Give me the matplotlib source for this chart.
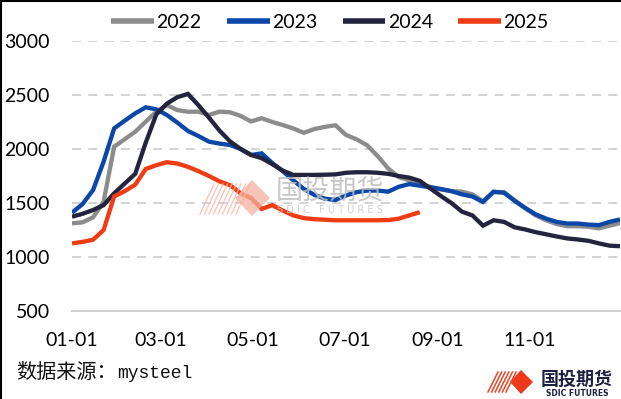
import matplotlib
matplotlib.use("Agg")
import matplotlib.pyplot as plt
import matplotlib.dates as mdates
from matplotlib.patches import Polygon
from matplotlib.lines import Line2D
import pandas as pd

# ---------------- data ----------------
weeks = pd.date_range("2023-01-01", periods=53, freq="7D")
tick_dates = ["2023-01-01", "2023-03-01", "2023-05-01", "2023-07-01", "2023-09-01", "2023-11-01"]
y_ticks = [500, 1000, 1500, 2000, 2500, 3000]

s2022 = [1312, 1321, 1367, 1512, 2022, 2090, 2160, 2253, 2346, 2407, 2360, 2345, 2345,
         2315, 2346, 2340, 2306, 2255, 2285, 2250, 2222, 2190, 2150, 2185, 2205, 2220,
         2130, 2090, 2035, 1935, 1820, 1740, 1710, 1670, 1650, 1625, 1610, 1605, 1580,
         1515, 1600, 1600, 1525, 1450, 1385, 1340, 1305, 1285, 1285, 1280, 1265, 1290, 1315]
s2023 = [1410, 1490, 1620, 1883, 2191, 2262, 2330, 2386, 2367, 2315, 2244, 2167, 2120,
         2068, 2050, 2037, 2000, 1944, 1960, 1870, 1795, 1710, 1630, 1575, 1540, 1528,
         1570, 1600, 1615, 1615, 1605, 1650, 1675, 1660, 1645, 1630, 1610, 1580, 1560,
         1510, 1605, 1595, 1520, 1455, 1395, 1355, 1325, 1310, 1310, 1300, 1295, 1325, 1348]
s2024 = [1373, 1400, 1435, 1480, 1590, 1680, 1770, 2060, 2320, 2420, 2480, 2510, 2405,
         2290, 2170, 2070, 2000, 1945, 1915, 1860, 1800, 1760, 1760, 1760, 1762, 1765,
         1780, 1785, 1785, 1780, 1770, 1750, 1735, 1705, 1635, 1565, 1500, 1420, 1385,
         1290, 1340, 1325, 1275, 1255, 1230, 1210, 1190, 1172, 1162, 1150, 1126, 1105, 1100]
s2025 = [1126, 1140, 1160, 1250, 1560, 1610, 1670, 1815, 1850, 1878, 1865, 1835, 1795,
         1750, 1700, 1665, 1590, 1545, 1445, 1480, 1430, 1385, 1360, 1350, 1345, 1340,
         1340, 1340, 1340, 1340, 1342, 1355, 1385, 1415]

labels = ["2022", "2023", "2024", "2025"]
series = [s2022, s2023, s2024, s2025]
colors = ["#8C8C8C", "#0A47A8", "#24243F", "#F03C14"]

# ---------------- figure ----------------
W, H = 621, 399
fig = plt.figure(figsize=(W / 100, H / 100), dpi=100)
ax = fig.add_axes([72 / W, (H - 311) / H, (620 - 72) / W, (311 - 41) / H])

lines = []
for lab, vals, col in zip(labels, series, colors):
    ln, = ax.plot(weeks[:len(vals)], vals, color=col, lw=3.1, label=lab,
                  solid_joinstyle="miter", solid_capstyle="butt", zorder=3)
    lines.append(ln)

ax.set_xlim(pd.Timestamp("2023-01-01"), pd.Timestamp("2023-12-31"))
ax.set_ylim(500, 3000)
ax.set_yticks(y_ticks)
ax.set_xticks([pd.Timestamp(d) for d in tick_dates])
ax.xaxis.set_major_formatter(mdates.DateFormatter("%m-%d"))

for v in y_ticks[1:]:
    ax.axhline(v, color="#D0D0D0", lw=1.3, ls=(0, (5, 4)), zorder=1)

for sp in ["top", "right", "left"]:
    ax.spines[sp].set_visible(False)
ax.spines["bottom"].set_color("#D0D0D0")
ax.spines["bottom"].set_linewidth(1.5)

ax.tick_params(axis="both", length=0, labelsize=14)
ax.tick_params(axis="y", pad=16)
ax.tick_params(axis="x", pad=15)
for t in ax.get_xticklabels() + ax.get_yticklabels():
    t.set_fontfamily("Lato")

leg = fig.legend(handles=lines, loc="center", bbox_to_anchor=(330 / W, 1 - 22 / H),
                 ncol=4, frameon=False, prop={"family": "Lato", "size": 14},
                 handlelength=2.2, handletextpad=0.12, columnspacing=1.3)
for lh in leg.get_lines():
    lh.set_linewidth(4)

# watermark
fig.patches.append(Polygon([(235 / W, 1 - 198 / H), (252 / W, 1 - 180 / H),
                            (270 / W, 1 - 198 / H), (252 / W, 1 - 216 / H)],
                           closed=True, transform=fig.transFigure,
                           facecolor="#F4B2A0", edgecolor="none", alpha=0.75, zorder=2))
for i in range(9):
    x0 = 200 + i * 4.5
    fig.add_artist(Line2D([x0 / W, (x0 + 14) / W], [1 - 214 / H, 1 - 184 / H],
                          color="#F6B8A8", lw=1.0, alpha=0.8, zorder=2))
fig.text(330 / W, 1 - 191 / H, "国投期货", family=["Noto Sans CJK SC"], fontsize=19.5,
         color="#BDBDBD", ha="center", va="center", alpha=0.85, zorder=2)
fig.text(330 / W, 1 - 210 / H, "S D I C   F U T U R E S", family="DejaVu Sans",
         fontsize=7, color="#C8C8C8", ha="center", va="center", alpha=0.85, zorder=2)

# source
fig.text(16 / W, 1 - 373 / H, "数据来源：", family=["Noto Sans CJK SC"], fontsize=14.5,
         color="#111111", ha="left", va="center")
fig.text(117 / W, 1 - 373 / H, "mysteel", family="Liberation Mono", fontsize=13,
         color="#111111", ha="left", va="center")

# logo bottom-right
for i in range(6):
    x0 = 488 + i * 3.6
    fig.add_artist(Line2D([x0 / W, (x0 + 10) / W], [1 - 392 / H, 1 - 372 / H],
                          color="#E8462A", lw=1.1))
fig.patches.append(Polygon([(510 / W, 1 - 382 / H), (521 / W, 1 - 370 / H),
                            (533 / W, 1 - 382 / H), (521 / W, 1 - 394 / H)],
                           closed=True, transform=fig.transFigure,
                           facecolor="#EE3A1A", edgecolor="none"))
fig.text(577 / W, 1 - 379 / H, "国投期货", family=["Noto Sans CJK SC"], fontsize=13,
         fontweight="bold", color="#1E2142", ha="center", va="center")
fig.text(577 / W, 1 - 393 / H, "SDIC FUTURES", family="DejaVu Sans", fontsize=5.5,
         fontweight="bold", color="#1E2142", ha="center", va="center")

# image border
fig.add_artist(Line2D([0.5 / W, 0.5 / W], [0, 1], color="black", lw=1.5))
fig.add_artist(Line2D([0, 1], [1 - 0.5 / H, 1 - 0.5 / H], color="black", lw=1.5))

fig.savefig("out.png", dpi=100)
